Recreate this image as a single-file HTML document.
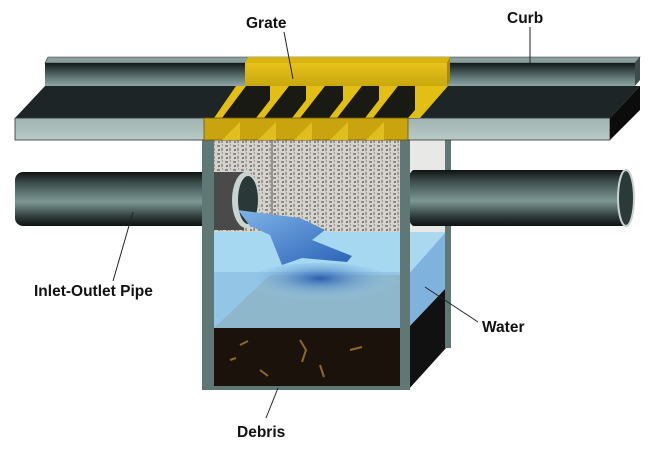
<!DOCTYPE html>
<html><head><meta charset="utf-8"><style>
html,body{margin:0;padding:0;background:#fff;}
svg{display:block}
text{font-family:"Liberation Sans",Arial,sans-serif;font-weight:bold;font-size:15.5px;fill:#111}
</style></head><body>
<svg width="663" height="462" viewBox="0 0 663 462" xmlns="http://www.w3.org/2000/svg">
<defs>
<linearGradient id="pipe" x1="0" y1="0" x2="0" y2="1">
<stop offset="0" stop-color="#111"/><stop offset="0.2" stop-color="#3b4d4c"/><stop offset="0.55" stop-color="#7d9894"/><stop offset="0.85" stop-color="#2a3635"/><stop offset="1" stop-color="#0e1414"/></linearGradient>
<linearGradient id="curb" x1="0" y1="0" x2="0" y2="1">
<stop offset="0" stop-color="#121818"/><stop offset="0.6" stop-color="#5d7472"/><stop offset="1" stop-color="#8fa7a4"/></linearGradient>
<linearGradient id="yel" x1="0" y1="0" x2="0" y2="1">
<stop offset="0" stop-color="#e6c21a"/><stop offset="1" stop-color="#c9a80e"/></linearGradient>
<linearGradient id="front" x1="0" y1="0" x2="0" y2="1">
<stop offset="0" stop-color="#9fb4b1"/><stop offset="1" stop-color="#b9c9c6"/></linearGradient>
<pattern id="speck" width="8" height="8" patternUnits="userSpaceOnUse">
<rect width="8" height="8" fill="#d6d2ce"/><rect x="1" y="1" width="3" height="2" fill="#8f8b87"/><rect x="5" y="4" width="2" height="3" fill="#9c9894"/><rect x="2" y="5" width="2" height="2" fill="#86827e"/><rect x="6" y="0" width="1" height="2" fill="#a29e9a"/></pattern>
<radialGradient id="wblue" cx="0.5" cy="0.35" r="0.5">
<stop offset="0" stop-color="#2a5fb0"/><stop offset="1" stop-color="#9fd3ef" stop-opacity="0"/></radialGradient>
<linearGradient id="jet" x1="0" y1="0" x2="1" y2="1">
<stop offset="0" stop-color="#7fb4e6"/><stop offset="1" stop-color="#2a62b8"/></linearGradient>
</defs>

<!-- left pipe -->
<rect x="15" y="172" width="200" height="54" rx="8" fill="url(#pipe)"/>

<!-- right side face of box -->
<polygon points="408,140 446,140 446,348 408,390" fill="#e8e8e6"/>
<polygon points="408,232 446,232 446,288 408,328" fill="#7fb3dd"/>
<polygon points="408,232 446,232 408,275" fill="#a9d8f0"/>
<polygon points="408,328 446,288 446,348 408,390" fill="#111"/>
<rect x="445" y="140" width="6" height="208" fill="#5f7876"/>
<!-- right pipe -->
<rect x="414" y="170" width="214" height="56" fill="url(#pipe)"/>
<ellipse cx="414" cy="198" rx="8" ry="28" fill="url(#pipe)"/>
<ellipse cx="626" cy="198" rx="8" ry="28" fill="#2b3a39" stroke="#c8d2d0" stroke-width="2"/>

<!-- box interior -->
<rect x="214" y="140" width="186" height="192" fill="url(#speck)"/>
<line x1="272" y1="140" x2="272" y2="232" stroke="#555" stroke-width="1"/>
<rect x="214" y="232" width="186" height="96" fill="#a6d9f1"/>
<rect x="214" y="272" width="186" height="56" fill="#93c6e6"/>
<polygon points="214,328 270,275 400,275 400,328" fill="#8fb3c6" opacity="0.8"/>
<ellipse cx="320" cy="285" rx="80" ry="22" fill="url(#wblue)"/>
<rect x="214" y="328" width="186" height="58" fill="#1b120b"/>
<path d="M240 345 l8 -4 M300 340 l6 10 l-4 12 M350 350 l12 -3 M320 365 l4 12 M260 370 l8 6 M230 360 l6 -2" stroke="#8a6a25" stroke-width="2" fill="none"/>
<!-- inlet pipe mouth -->
<rect x="214" y="172" width="30" height="58" fill="#4a4a4a"/>
<ellipse cx="246" cy="200" rx="14" ry="28" fill="#c9d3d1"/>
<ellipse cx="248" cy="200" rx="10" ry="24" fill="#2a3837"/>
<!-- water jet -->
<path d="M238 210 L300 218 L325 230 L312 240 L352 256 L347 262 L302 258 L282 265 L270 235 L250 226 Z" fill="url(#jet)"/>

<!-- box posts -->
<rect x="202" y="140" width="12" height="250" fill="#5f7876"/>
<rect x="400" y="140" width="10" height="250" fill="#5f7876"/>
<rect x="202" y="386" width="208" height="4" fill="#5f7876"/>

<!-- road -->
<polygon points="45,86 640,86 610,118 15,118" fill="#1e2526"/>
<rect x="15" y="118" width="595" height="22" fill="url(#front)" stroke="#333" stroke-width="0.8"/>
<polygon points="610,118 640,86 640,110 610,140" fill="#0c0c0c"/>
<!-- curb -->
<polygon points="45,63 48,57 640,57 635,63" fill="#8aa09d" stroke="#333" stroke-width="0.6"/>
<rect x="45" y="63" width="590" height="23" fill="url(#curb)"/>
<polygon points="635,63 640,57 640,80 635,86" fill="#3e4d4c"/>

<!-- grate slots -->
<polygon points="236,86 450,86 408,118 214,118" fill="#1a1a14"/>
<g fill="#e3bf14">
<polygon points="236,86 246,86 222,118 214,118"/>
<polygon points="270,86 289,86 264,118 256,118 270,100"/>
<polygon points="306,86 325,86 300,118 292,118 306,100"/>
<polygon points="343,86 362,86 337,118 329,118 343,100"/>
<polygon points="379,86 398,86 373,118 365,118 379,100"/>
<polygon points="415,86 448,86 420,118 408,118 415,110"/>
</g>
<!-- grate top block -->
<polygon points="248,57 450,57 447,63 245,63" fill="#d7b40e"/>
<rect x="245" y="63" width="202" height="23" fill="url(#yel)"/>
<polygon points="447,63 450,57 450,80 447,86" fill="#a88a08"/>
<!-- grate front band -->
<rect x="204" y="118" width="204" height="22" fill="#c9a40f" stroke="#6b5a05" stroke-width="0.8"/>
<g fill="#e8c525" opacity="0.8">
<polygon points="222,140 240,122 240,140"/><polygon points="258,140 276,122 276,140"/><polygon points="294,140 312,122 312,140"/><polygon points="330,140 348,122 348,140"/><polygon points="366,140 384,122 384,140"/></g>

<!-- leader lines -->
<g stroke="#222" stroke-width="1" fill="none">
<line x1="284" y1="32" x2="293" y2="79"/>
<line x1="530" y1="27" x2="530" y2="63"/>
<line x1="113" y1="281" x2="133" y2="212"/>
<line x1="478" y1="322" x2="425" y2="287"/>
<line x1="266" y1="418" x2="278" y2="388"/>
</g>
<!-- labels -->
<text x="246" y="28">Grate</text>
<text x="507" y="23">Curb</text>
<text x="34" y="296">Inlet-Outlet Pipe</text>
<text x="482" y="332">Water</text>
<text x="237" y="437">Debris</text>
</svg>
</body></html>
